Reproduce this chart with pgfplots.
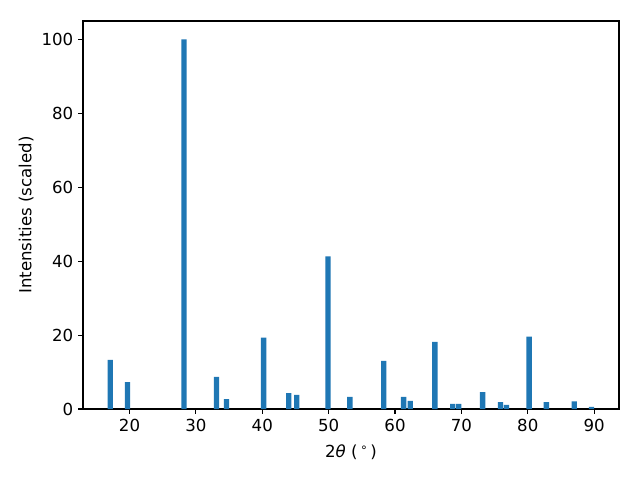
\documentclass[border=0pt]{standalone}
\usepackage{fontspec}
\setmainfont{DejaVu Sans}
\usepackage{pgfplots}
\pgfplotsset{compat=1.18}
\definecolor{tabblue}{HTML}{1F77B4}
\begin{document}
\begin{tikzpicture}
\begin{axis}[
  scale only axis, width=385.9bp, height=279.4bp,
  xmin=13.0, xmax=93.75, ymin=0, ymax=105,
  ybar, bar width=0.8, bar shift=0pt,
  xtick={20,30,...,90}, ytick={0,20,...,100},
  tick align=outside, xtick pos=bottom, ytick pos=left,
  major tick length=3.5bp,
  axis line style={line width=0.8bp},
  every tick/.style={black, line width=0.8bp},
  /pgf/number format/assume math mode=true,
  ticklabel style={font=\fontsize{12}{14}\selectfont},
  xlabel style={font=\fontsize{12}{14}\selectfont, at={(axis description cs:0.5,-0.1108)}, anchor=center},
  ylabel style={font=\fontsize{12}{14}\selectfont, at={(axis description cs:-0.1063,0.5)}, anchor=center},
  xlabel={2{\itshape θ} (\,\raisebox{0.6ex}{\fontsize{8.5}{10}\selectfont ∘}\,)},
  ylabel={Intensities (scaled)},
]
\addplot[fill=tabblue, draw=none] coordinates {
(17.1,13.3) (19.7,7.3) (28.2,100) (33.1,8.7) (34.6,2.7) (40.2,19.3)
(44.0,4.3) (45.2,3.8) (49.9,41.3) (53.2,3.3) (58.3,13.0) (61.3,3.3)
(62.3,2.2) (66.0,18.2) (68.7,1.4) (69.6,1.4) (73.2,4.6) (75.9,1.9)
(76.8,1.1) (80.2,19.6) (82.8,1.9) (87.0,2.1) (89.6,0.6)
};
\coordinate (ll) at (rel axis cs:0,0);
\coordinate (ur) at (rel axis cs:1,1);
\end{axis}
\path[use as bounding box] ([xshift=-59.8bp,yshift=-51.1bp]ll) rectangle ([xshift=15.1bp,yshift=15.1bp]ur);
\end{tikzpicture}
\end{document}
